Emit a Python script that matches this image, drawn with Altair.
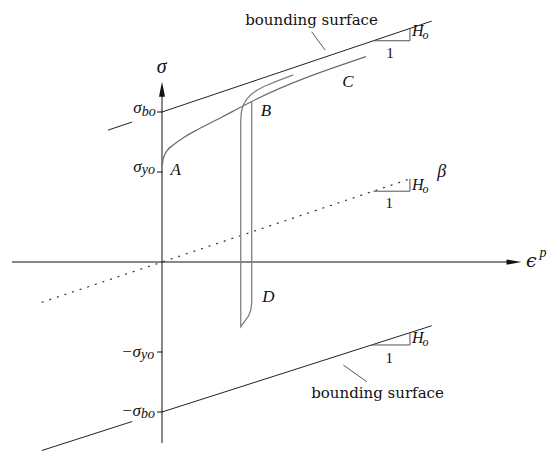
import altair as alt
import pandas as pd

# Coordinates are plastic strain (eps_p) and stress (sigma), with sigma_bo = 1
EPS_DOMAIN = [-1.08, 2.5867]
SIG_DOMAIN = [-1.2733, 1.7467]

sigma_bo = 1.0
sigma_yo = 0.6

# coordinate axes (x0, y0, x1, y1)
axis_x0 = [0.0, -1.0]
axis_y0 = [-1.207, 0.0]
axis_x1 = [0.0, 2.3]
axis_y1 = [1.107, 0.0]

# tick marks on the stress axis
tick_sig = [sigma_bo, sigma_yo, -sigma_yo, -sigma_bo]

# upper and lower bounding surfaces (each with a short piece left of the axis)
bound_x0 = [0.0, -0.36, 0.0, -0.802]
bound_y0 = [1.0, 0.879, -1.0, -1.257]
bound_x1 = [1.798, -0.2, 1.798, -0.198]
bound_y1 = [1.606, 0.933, -0.425, -1.063]

# slope triangles (1 : H_o)
tri_x0 = [1.409, 1.653, 1.409, 1.653, 1.398, 1.653]
tri_y0 = [1.475, 1.475, 0.472, 0.472, -0.553, -0.553]
tri_x1 = [1.653, 1.653, 1.653, 1.653, 1.653, 1.653]
tri_y1 = [1.475, 1.557, 0.472, 0.554, -0.553, -0.471]

# leader lines pointing at the bounding surfaces
lead_x0 = [0.998, 1.209]
lead_y0 = [1.535, -0.687]
lead_x1 = [1.087, 1.365]
lead_y1 = [1.413, -0.798]

# back-stress line beta (dotted)
beta_x0 = [-0.802]
beta_y0 = [-0.269]
beta_x1 = [1.653]
beta_y1 = [0.554]

# monotonic loading A -> B -> C
load_eps = [0.002, 0.005, 0.017, 0.040, 0.075, 0.153, 0.242, 0.398, 0.553, 0.598, 1.360]
load_sig = [0.640, 0.673, 0.713, 0.750, 0.780, 0.835, 0.885, 0.965, 1.047, 1.070, 1.369]

# unloading B -> D and reloading
loop_eps = [0.598, 0.598, 0.592, 0.577, 0.550, 0.525, 0.525, 0.529, 0.542, 0.563,
            0.593, 0.633, 0.680, 0.753, 0.875]
loop_sig = [1.070, -0.273, -0.320, -0.360, -0.397, -0.431, 0.947, 1.000, 1.047, 1.083,
            1.117, 1.145, 1.170, 1.201, 1.247]

xs = alt.Scale(domain=EPS_DOMAIN, nice=False, zero=False)
ys = alt.Scale(domain=SIG_DOMAIN, nice=False, zero=False)


def segs(x0, y0, x1, y1, color, width=1.0, dash=None):
    df = pd.DataFrame({"x": x0, "y": y0, "x2": x1, "y2": y1})
    kw = dict(color=color, strokeWidth=width)
    if dash:
        kw["strokeDash"] = dash
    return alt.Chart(df).mark_rule(**kw).encode(
        x=alt.X("x:Q", scale=xs, axis=None),
        y=alt.Y("y:Q", scale=ys, axis=None),
        x2="x2:Q",
        y2="y2:Q",
    )


def curve(e, s, color, interp):
    df = pd.DataFrame({"e": e, "s": s, "i": range(len(e))})
    return alt.Chart(df).mark_line(color=color, strokeWidth=1.3, interpolate=interp).encode(
        x=alt.X("e:Q", scale=xs, axis=None),
        y=alt.Y("s:Q", scale=ys, axis=None),
        order="i:Q",
    )


def labels(e, s, t, size, font="Liberation Serif", style="italic", align="center", color="#111"):
    df = pd.DataFrame({"e": e, "s": s, "t": t})
    return alt.Chart(df).mark_text(
        font=font, fontSize=size, fontStyle=style, align=align,
        baseline="alphabetic", color=color,
    ).encode(
        x=alt.X("e:Q", scale=xs, axis=None),
        y=alt.Y("s:Q", scale=ys, axis=None),
        text="t:N",
    )


def arrow(e, s, path):
    df = pd.DataFrame({"e": [e], "s": [s]})
    return alt.Chart(df).mark_point(
        shape=path, filled=True, size=225, color="#111", opacity=1, strokeWidth=0,
    ).encode(
        x=alt.X("e:Q", scale=xs, axis=None),
        y=alt.Y("s:Q", scale=ys, axis=None),
    )


ticks = segs([-0.033] * 4, tick_sig, [0.003] * 4, tick_sig, "#111")

layers = [
    segs(axis_x0, axis_y0, axis_x1, axis_y1, "#111"),
    ticks,
    segs(bound_x0, bound_y0, bound_x1, bound_y1, "#222"),
    segs(tri_x0, tri_y0, tri_x1, tri_y1, "#555"),
    segs(lead_x0, lead_y0, lead_x1, lead_y1, "#555"),
    segs(beta_x0, beta_y0, beta_x1, beta_y1, "#333", 1.2, [2, 6]),
    curve(load_eps, load_sig, "#6e6e6e", "monotone"),
    curve(loop_eps, loop_sig, "#808080", "linear"),
    arrow(2.347, 0.0, "M-1,-0.35L1,0L-1,0.35Z"),
    arrow(0.0, 1.152, "M-0.4,1L0,-1L0.4,1Z"),
    # plain text
    labels([0.997, 1.437], [1.58, -0.909], ["bounding surface", "bounding surface"],
           15, font="DejaVu Serif", style="normal"),
    labels([1.52, 1.515, 1.515], [1.358, 0.358, -0.675], ["1", "1", "1"],
           15, style="normal"),
    # axis labels
    labels([-0.002], [1.258], ["σ"], 20),
    labels([2.463], [-0.035], ["ϵ"], 19, font="DejaVu Serif"),
    labels([2.54], [0.035], ["p"], 14),
    # stress-axis tick labels
    labels([-0.135, -0.135, -0.14, -0.14], [0.991, 0.602, -0.631, -1.025],
           ["σ", "σ", "−σ", "−σ"], 17, align="right"),
    labels([-0.135, -0.135, -0.14, -0.14], [0.975, 0.587, -0.647, -1.04],
           ["bo", "yo", "yo", "bo"], 14, align="left"),
    # point labels
    labels([0.091, 0.693, 1.24, 0.709], [0.58, 0.971, 1.165, -0.269],
           ["A", "B", "C", "D"], 17),
    labels([1.865], [0.567], ["β"], 18),
    labels([1.667, 1.667, 1.667], [1.509, 0.477, -0.542], ["H", "H", "H"], 16, align="left"),
    labels([1.737, 1.737, 1.737], [1.489, 0.457, -0.562], ["o", "o", "o"], 12, align="left"),
]

chart = alt.layer(*layers).properties(
    width=550,
    height=453,
    padding=0,
    autosize=alt.AutoSizeParams(type="none"),
    background="white",
).configure_view(stroke=None)

chart.save("out.html", embed_options={"renderer": "svg", "actions": False})
